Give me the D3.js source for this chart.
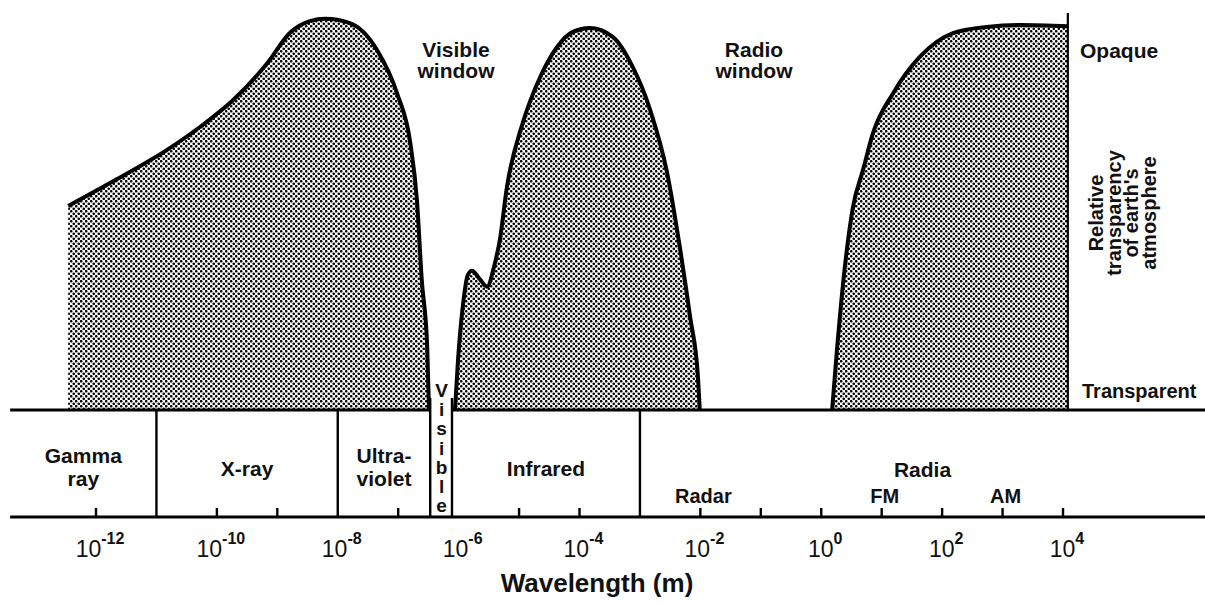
<!DOCTYPE html>
<meta charset="utf-8">
<title>Atmospheric windows</title>
<style>
    body { margin: 0; background: #fff; }
    text { font-family: "Liberation Sans", Arial, sans-serif; fill: #111; }
    .lbl { font-weight: bold; font-size: 21px; }
</style>
<script src="https://d3js.org/d3.v7.min.js"></script>
<body>
<script>
    // opacity curves: [log10 wavelength (m), relative opacity] (0 = transparent, 1 = opaque)
    const humpShort = [[-12.46,0.53],[-11.65,0.60],[-10.83,0.675],[-10.28,0.735],[-9.73,0.805],[-9.17,0.90],
        [-8.79,0.98],[-8.46,1.01],[-8.21,1.016],[-7.80,1.005],[-7.35,0.935],[-7.02,0.823],[-6.80,0.694],
        [-6.69,0.545],[-6.61,0.338],[-6.52,0.164],[-6.49,0]];
    const humpIR = [[-6.06,0],[-6.01,0.13],[-5.93,0.27],[-5.85,0.35],[-5.78,0.362],[-5.65,0.34],[-5.53,0.32],
        [-5.41,0.375],[-5.32,0.44],[-5.20,0.58],[-4.94,0.745],[-4.65,0.865],[-4.37,0.943],[-4.11,0.982],
        [-3.83,0.992],[-3.45,0.969],[-3.12,0.891],[-2.83,0.779],[-2.55,0.616],[-2.34,0.423],[-2.17,0.242],
        [-2.04,0.086],[-2.01,0]];
    const humpRadio = [[0.18,0],[0.26,0.156],[0.39,0.371],[0.525,0.527],[0.69,0.623],[0.856,0.719],
        [1.19,0.823],[1.63,0.917],[2.18,0.979],[2.74,0.995],[3.29,1.0],[4.08,0.997]];

    // spectrum bands (edges in log10 m)
    const bandNames = [["Gamma","ray"],["X-ray"],["Ultra-","violet"],["Visible"],["Infrared"],["Radia"]];
    const bandEdges = [-13.42,-11,-8,-6.47,-6.11,-3,6.35];
    const subNames = ["Radar","FM","AM"];
    const subExp = [-2,1,3];

    const tickExp = [-12,-10,-9,-7,-5,-4,-2,-1,0,1,2,3,4];
    const labelExp = [-12,-10,-8,-6,-4,-2,0,2,4];
    const scaleEdgeExp = 4.08;

    const W = 1205, H = 604;
    const bandTop = 410, bandBot = 517;

    const x = d3.scaleLog().domain([1e-12, 1e4]).range([96, 1063]);
    const y = d3.scaleLinear().domain([0, 1]).range([bandTop, 25]);
    const xe = e => x(Math.pow(10, e));

    const svg = d3.select("body").append("svg")
        .attr("width", W).attr("height", H);

    // halftone fill
    const pat = svg.append("defs").append("pattern")
        .attr("id", "dots").attr("patternUnits", "userSpaceOnUse")
        .attr("width", 5).attr("height", 5);
    pat.append("circle").attr("cx", 1.25).attr("cy", 1.25).attr("r", 1.3).attr("fill", "#000");
    pat.append("circle").attr("cx", 3.75).attr("cy", 3.75).attr("r", 1.3).attr("fill", "#000");

    const area = d3.area().x(d => xe(d[0])).y0(y(0)).y1(d => y(d[1])).curve(d3.curveMonotoneX);
    const line = d3.line().x(d => xe(d[0])).y(d => y(d[1])).curve(d3.curveMonotoneX);

    [humpShort, humpIR, humpRadio].forEach(h => {
        svg.append("path").attr("d", area(h)).attr("fill", "url(#dots)");
        svg.append("path").attr("d", line(h))
            .attr("fill", "none").attr("stroke", "#000")
            .attr("stroke-width", 4).attr("stroke-linejoin", "round");
    });

    // right scale line
    svg.append("line")
        .attr("x1", xe(scaleEdgeExp)).attr("x2", xe(scaleEdgeExp))
        .attr("y1", 13).attr("y2", bandTop)
        .attr("stroke", "#000").attr("stroke-width", 2.2);

    // band box: top line (open over the visible strip), bottom line, dividers
    const visL = xe(bandEdges[3]), visR = xe(bandEdges[4]);
    [[xe(bandEdges[0]), visL], [visR, W]].forEach(s => {
        svg.append("line").attr("x1", s[0]).attr("x2", s[1])
            .attr("y1", bandTop).attr("y2", bandTop)
            .attr("stroke", "#000").attr("stroke-width", 3);
    });
    svg.append("line").attr("x1", xe(bandEdges[0])).attr("x2", W)
        .attr("y1", bandBot).attr("y2", bandBot)
        .attr("stroke", "#000").attr("stroke-width", 3);

    bandEdges.slice(1, -1).forEach((e, i) => {
        const vis = (i === 2 || i === 3);
        svg.append("line").attr("x1", xe(e)).attr("x2", xe(e))
            .attr("y1", vis ? 398 : bandTop).attr("y2", bandBot)
            .attr("stroke", "#000").attr("stroke-width", 2.4);
    });

    // ticks
    svg.selectAll(".tick").data(tickExp).join("line")
        .attr("x1", d => xe(d)).attr("x2", d => xe(d))
        .attr("y1", bandBot).attr("y2", bandBot - 9)
        .attr("stroke", "#000").attr("stroke-width", 2.4);

    // band names
    bandNames.forEach((lines, i) => {
        const cx = xe((bandEdges[i] + bandEdges[i + 1]) / 2);
        if (lines[0] === "Visible") {
            const t = svg.append("text").attr("class", "lbl")
                .attr("text-anchor", "middle").style("font-size", "19px");
            lines[0].split("").forEach((ch, k) => {
                t.append("tspan").attr("x", cx + 0.5).attr("y", 397 + k * 19.2).text(ch);
            });
            return;
        }
        const base = lines.length === 2 ? 463 : (lines[0] === "Radia" ? 477 : 476);
        const t = svg.append("text").attr("class", "lbl").attr("text-anchor", "middle");
        lines.forEach((s, k) => t.append("tspan").attr("x", cx).attr("y", base + k * 23).text(s));
    });

    subNames.forEach((s, i) => {
        svg.append("text").attr("class", "lbl").attr("text-anchor", "middle")
            .attr("x", xe(subExp[i]) + 3).attr("y", 503).style("font-size", "20px").text(s);
    });

    // tick labels
    labelExp.forEach(e => {
        const t = svg.append("text").attr("text-anchor", "middle")
            .attr("x", xe(e) + 4).attr("y", 557).style("font-size", "23px");
        t.append("tspan").text("10");
        t.append("tspan").attr("dy", -13).style("font-size", "16px").style("font-weight", "bold")
            .text(e < 0 ? "-" + (-e) : String(e));
    });

    svg.append("text").attr("class", "lbl").attr("text-anchor", "middle")
        .attr("x", 597).attr("y", 592).style("font-size", "26px")
        .text("Wavelength (m)");

    // window captions
    [["Visible", "window", 456], ["Radio", "window", 754]].forEach(c => {
        const t = svg.append("text").attr("class", "lbl").attr("text-anchor", "middle");
        t.append("tspan").attr("x", c[2]).attr("y", 57).text(c[0]);
        t.append("tspan").attr("x", c[2]).attr("y", 78).text(c[1]);
    });

    // right-hand scale labels
    svg.append("text").attr("class", "lbl").attr("x", 1080).attr("y", 58).text("Opaque");
    svg.append("text").attr("class", "lbl").attr("x", 1082).attr("y", 398)
        .style("font-size", "20px").text("Transparent");

    const rot = svg.append("text").attr("class", "lbl").attr("text-anchor", "middle")
        .style("font-size", "20px")
        .attr("transform", "translate(1103,213) rotate(-90)");
    ["Relative", "transparency", "of earth's", "atmosphere"].forEach((s, k) => {
        rot.append("tspan").attr("x", 0).attr("dy", k === 0 ? 0 : 17.7).text(s);
    });
</script>
</body>
